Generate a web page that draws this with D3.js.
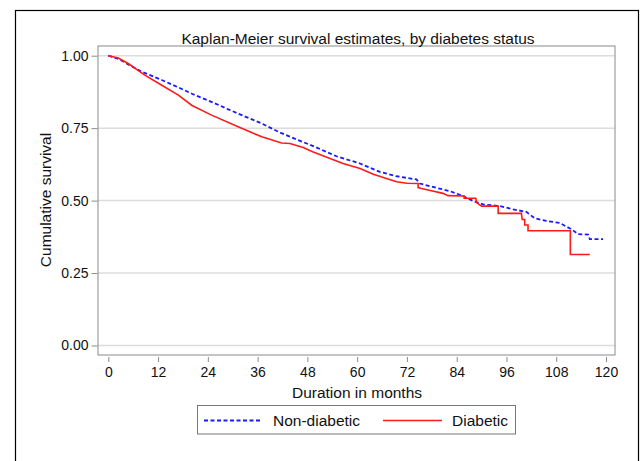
<!DOCTYPE html>
<html>
<head>
<meta charset="utf-8">
<script src="https://cdn.jsdelivr.net/npm/d3@7"></script>
<style>
  body { margin: 0; background: #fff; }
  text { font-family: "Liberation Sans", Arial, sans-serif; fill: #111; }
</style>
</head>
<body>
<script>
// Kaplan-Meier curves (months, survival).
// Many small early steps look like a line; repeated times mark the visible drops.
var nonDiabTime = [0, 2.3, 4.8, 8, 12.9, 17, 20.9, 25, 28.9, 33, 37, 41.4, 45.4, 49.4, 55, 60.7, 65.5, 69.5,
    74.3, 75.1, 79.1, 82.3, 85.5, 87.9, 90.4, 94.4, 97.6, 100.8, 102.8, 105.6, 108.8, 111.7, 113.3, 115.7,
    116.1, 119.3];
var nonDiabSurv = [1.0, 0.99, 0.970, 0.945, 0.916, 0.89, 0.864, 0.840, 0.815, 0.79, 0.766, 0.735, 0.711, 0.688,
    0.653, 0.628, 0.599, 0.584, 0.573, 0.559, 0.544, 0.533, 0.516, 0.499, 0.487, 0.481, 0.470, 0.461, 0.439,
    0.430, 0.423, 0.401, 0.384, 0.383, 0.367, 0.367];

var diabTime = [0, 2.4, 4.8, 8.8, 12.9, 16.9, 20.1, 24.9, 31.3, 37, 41.8, 43.8, 47, 49.4, 56.6, 60.7, 63.9, 69.5,
    72, 74.7, 74.7, 75.5, 77.9, 80.7, 81.9, 85.8, 85.8, 88.6, 88.8, 90, 94, 94, 99.6, 99.8, 100.4, 100.4, 101.2,
    101.2, 111.4, 111.4, 116.1];
var diabSurv = [1.0, 0.992, 0.973, 0.933, 0.898, 0.864, 0.829, 0.795, 0.755, 0.72, 0.699, 0.697, 0.683, 0.668,
    0.628, 0.611, 0.591, 0.565, 0.560, 0.559, 0.545, 0.542, 0.534, 0.525, 0.517, 0.516, 0.508, 0.508, 0.493,
    0.481, 0.481, 0.456, 0.456, 0.435, 0.435, 0.416, 0.416, 0.396, 0.396, 0.314, 0.314];

var xTicks = [0, 12, 24, 36, 48, 60, 72, 84, 96, 108, 120];
var yTicks = [0, 0.25, 0.5, 0.75, 1];

var svgWidth = 643;
var svgHeight = 461;

// Plot frame
var frame = { left: 98, right: 615, top: 46, bottom: 355 };

var svg = d3.select("body")
    .append("svg")
    .attr("width", svgWidth)
    .attr("height", svgHeight);

// Outer border
svg.append("rect")
    .attr("x", 15.5).attr("y", 10.5)
    .attr("width", 623).attr("height", 470)
    .attr("fill", "none")
    .attr("stroke", "#000")
    .attr("stroke-width", 1.2);

var x = d3.scaleLinear().domain([0, 120]).range([108.3, 606]);
var y = d3.scaleLinear().domain([0, 1]).range([345.5, 55.7]);

// Gridlines
svg.append("g")
    .selectAll("line")
    .data(yTicks)
    .enter()
    .append("line")
    .attr("x1", frame.left).attr("x2", frame.right)
    .attr("y1", d => y(d)).attr("y2", d => y(d))
    .attr("stroke", "#dcdcdc")
    .attr("stroke-width", 1.5);

// Frame
svg.append("rect")
    .attr("x", frame.left).attr("y", frame.top)
    .attr("width", frame.right - frame.left)
    .attr("height", frame.bottom - frame.top)
    .attr("fill", "none")
    .attr("stroke", "#8a8a8a")
    .attr("stroke-width", 1);

// Axes
var leftAxis = d3.axisLeft(y)
    .tickValues(yTicks)
    .tickFormat(d3.format(".2f"))
    .tickSize(6)
    .tickPadding(3);
var bottomAxis = d3.axisBottom(x)
    .tickValues(xTicks)
    .tickSize(5)
    .tickPadding(5);

var gy = svg.append("g")
    .attr("transform", `translate(${frame.left - 0.5}, 0)`)
    .call(leftAxis);
gy.select(".domain").remove();

var gx = svg.append("g")
    .attr("transform", `translate(0, ${frame.bottom + 2})`)
    .call(bottomAxis);
gx.select(".domain").remove();

svg.selectAll(".tick line").attr("stroke", "#8a8a8a");
svg.selectAll(".tick text")
    .attr("font-family", "Liberation Sans, Arial, sans-serif")
    .attr("font-size", 14)
    .attr("fill", "#111");

// Curves
var line = d3.line()
    .x(d => x(d[0]))
    .y(d => y(d[1]));

svg.append("path")
    .datum(d3.zip(nonDiabTime, nonDiabSurv))
    .attr("d", line)
    .attr("fill", "none")
    .attr("stroke", "#1a1aff")
    .attr("stroke-width", 1.8)
    .attr("stroke-dasharray", "4,2.5");

svg.append("path")
    .datum(d3.zip(diabTime, diabSurv))
    .attr("d", line)
    .attr("fill", "none")
    .attr("stroke", "#ff1a1a")
    .attr("stroke-width", 1.6);

// Title and axis labels
svg.append("text")
    .attr("x", 358).attr("y", 44)
    .attr("text-anchor", "middle")
    .attr("font-size", 15.5)
    .text("Kaplan-Meier survival estimates, by diabetes status");

svg.append("text")
    .attr("x", 357).attr("y", 397.5)
    .attr("text-anchor", "middle")
    .attr("font-size", 15.5)
    .text("Duration in months");

svg.append("text")
    .attr("transform", "translate(51, 200) rotate(-90)")
    .attr("text-anchor", "middle")
    .attr("font-size", 15.5)
    .text("Cumulative survival");

// Legend
var legend = svg.append("g");
legend.append("rect")
    .attr("x", 197.5).attr("y", 405.5)
    .attr("width", 318).attr("height", 28.5)
    .attr("fill", "#fff")
    .attr("stroke", "#777");
legend.append("line")
    .attr("x1", 204).attr("x2", 262).attr("y1", 420.5).attr("y2", 420.5)
    .attr("stroke", "#1a1aff").attr("stroke-width", 1.8).attr("stroke-dasharray", "4,2.5");
legend.append("text")
    .attr("x", 273).attr("y", 426)
    .attr("font-size", 15.5)
    .text("Non-diabetic");
legend.append("line")
    .attr("x1", 383).attr("x2", 442).attr("y1", 420.5).attr("y2", 420.5)
    .attr("stroke", "#ff1a1a").attr("stroke-width", 1.6);
legend.append("text")
    .attr("x", 452).attr("y", 426)
    .attr("font-size", 15.5)
    .text("Diabetic");
</script>
</body>
</html>
